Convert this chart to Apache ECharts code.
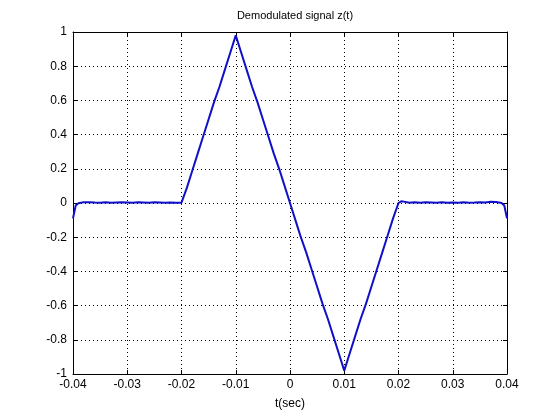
<!DOCTYPE html>
<html>
<head>
<meta charset="utf-8">
<script src="https://cdn.jsdelivr.net/npm/echarts@6/dist/echarts.min.js"></script>
<style>
html,body{margin:0;padding:0;background:#fff;}
#chart{width:560px;height:420px;}
</style>
</head>
<body>
<div id="chart"></div>
<script>
var titleText = "Demodulated signal z(t)";
var xLabel = "t(sec)";
var tValues = [
  -0.040, -0.0395, -0.039, -0.038, -0.037, -0.036, -0.035, -0.034, -0.033, -0.032,
  -0.031, -0.030, -0.029, -0.028, -0.027, -0.026, -0.025, -0.024, -0.023, -0.022,
  -0.021, -0.020, -0.019, -0.018, -0.017, -0.016, -0.015, -0.014, -0.013, -0.012,
  -0.011, -0.010, -0.009, -0.008, -0.007, -0.006, -0.005, -0.004, -0.003, -0.002,
  -0.001, 0.000, 0.001, 0.002, 0.003, 0.004, 0.005, 0.006, 0.007, 0.008,
  0.009, 0.010, 0.011, 0.012, 0.013, 0.014, 0.015, 0.016, 0.017, 0.018,
  0.019, 0.020, 0.0205, 0.021, 0.022, 0.023, 0.024, 0.025, 0.026, 0.027,
  0.028, 0.029, 0.030, 0.031, 0.032, 0.033, 0.034, 0.035, 0.036, 0.037,
  0.038, 0.039, 0.0395, 0.040
];
var zValues = [
  -0.09, -0.015, -0.002, 0.005, 0.005, 0.003, 0.002, 0.004, 0.002, 0.003,
  0.004, 0.003, 0.002, 0.004, 0.003, 0.002, 0.004, 0.003, 0.002, 0.003,
  0.002, 0.002, 0.09, 0.19, 0.29, 0.39, 0.49, 0.59, 0.68, 0.78,
  0.88, 0.98, 0.88, 0.78, 0.68, 0.59, 0.49, 0.39, 0.29, 0.2,
  0.1, 0.0, -0.1, -0.2, -0.29, -0.39, -0.49, -0.59, -0.68, -0.78,
  -0.88, -0.98, -0.88, -0.78, -0.68, -0.59, -0.49, -0.39, -0.29, -0.19,
  -0.09, 0.0, 0.01, 0.008, 0.002, 0.004, 0.001, 0.005, 0.003, 0.001,
  0.004, 0.002, 0.003, 0.001, 0.004, 0.002, 0.003, 0.005, 0.003, 0.007,
  0.006, 0.0, -0.015, -0.09
];
var xMin = -0.04, xMax = 0.04, xStep = 0.01;
var yMin = -1, yMax = 1, yStep = 0.2;

var data = tValues.map(function (t, i) { return [t, zValues[i]]; });
function fmt(v) { return String(Number(v.toFixed(2))); }
var font = 'Liberation Sans, Arial, sans-serif';
var chart = echarts.init(document.getElementById('chart'), null, {renderer: 'canvas'});
var commonLine = {show: true, onZero: false, lineStyle: {color: '#000', width: 1}};
var gridLine = {show: true, lineStyle: {color: '#000', width: 1, type: [1, 3]}};
chart.setOption({
  backgroundColor: '#fff',
  animation: false,
  title: {
    text: titleText, left: 290, top: 5, textAlign: 'center',
    textStyle: {fontFamily: font, fontSize: 11, fontWeight: 'normal', color: '#000'}
  },
  grid: {left: 73, right: 53, top: 32, bottom: 46, show: false},
  xAxis: [{
    type: 'value', min: xMin, max: xMax, interval: xStep,
    axisLine: commonLine,
    axisTick: {show: true, inside: true, length: 4, lineStyle: {color: '#000'}},
    axisLabel: {formatter: fmt, fontFamily: font, fontSize: 12, color: '#000', margin: 5},
    splitLine: gridLine,
    name: xLabel, nameLocation: 'middle', nameGap: 24,
    nameTextStyle: {fontFamily: font, fontSize: 12, color: '#000'}
  }, {
    type: 'value', position: 'top', min: xMin, max: xMax, interval: xStep,
    axisLine: commonLine,
    axisTick: {show: true, inside: true, length: 4, lineStyle: {color: '#000'}},
    axisLabel: {show: false}, splitLine: {show: false}
  }],
  yAxis: [{
    type: 'value', min: yMin, max: yMax, interval: yStep,
    axisLine: commonLine,
    axisTick: {show: true, inside: true, length: 4, lineStyle: {color: '#000'}},
    axisLabel: {formatter: fmt, fontFamily: font, fontSize: 12, color: '#000', margin: 6},
    splitLine: gridLine
  }, {
    type: 'value', position: 'right', min: yMin, max: yMax, interval: yStep,
    axisLine: commonLine,
    axisTick: {show: true, inside: true, length: 4, lineStyle: {color: '#000'}},
    axisLabel: {show: false}, splitLine: {show: false}
  }],
  series: [{
    type: 'line', data: data, xAxisIndex: 0, yAxisIndex: 0,
    showSymbol: false, symbol: 'none',
    lineStyle: {color: '#1010c8', width: 2},
    clip: true
  }]
});
</script>
</body>
</html>
